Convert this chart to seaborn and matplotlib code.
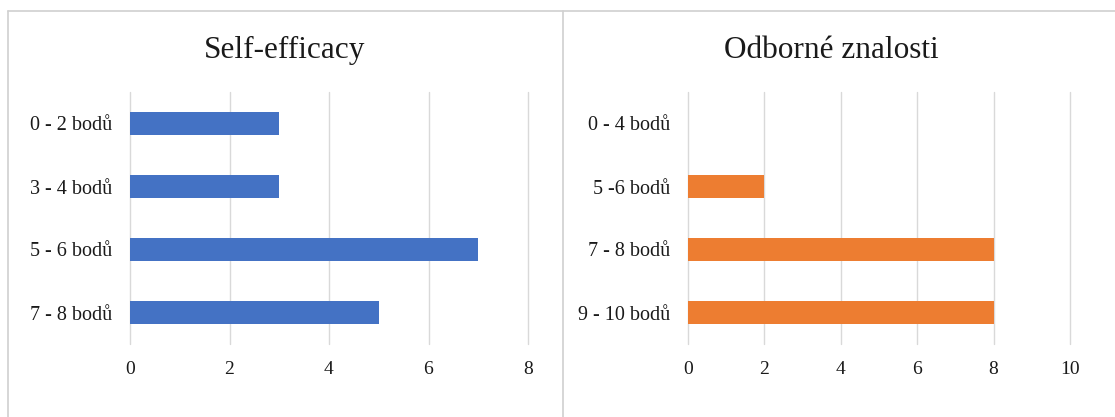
import matplotlib
matplotlib.use("Agg")
import matplotlib.pyplot as plt
from matplotlib.lines import Line2D
import seaborn as sns
import pandas as pd

# Self-efficacy score bands and counts
se_categories = ["0 - 2 bodů", "3 - 4 bodů", "5 - 6 bodů", "7 - 8 bodů"]
se_values = [3, 3, 7, 5]

# Professional knowledge score bands and counts
oz_categories = ["0 - 4 bodů", "5 -6 bodů", "7 - 8 bodů", "9 - 10 bodů"]
oz_values = [0, 2, 8, 8]

se_ticks = [0, 2, 4, 6, 8]
oz_ticks = [0, 2, 4, 6, 8, 10]

BLUE = "#4472C4"
ORANGE = "#ED7D31"
GRID = "#D9D9D9"
TEXT = "#1a1a1a"

sns.set_theme(style="white")
plt.rcParams["font.family"] = ["Liberation Serif", "DejaVu Serif"]

W, H = 1115, 417
fig = plt.figure(figsize=(W / 100, H / 100), dpi=100)


def px_axes(x0, x1, y0, y1):
    return fig.add_axes([x0 / W, 1 - y1 / H, (x1 - x0) / W, (y1 - y0) / H])


def draw_panel(ax, cats, vals, ticks, color):
    df = pd.DataFrame({"kategorie": cats, "pocet": vals})
    sns.barplot(data=df, y="kategorie", x="pocet", orient="h", color=color,
                width=0.35, saturation=1, ax=ax, order=cats, linewidth=0)
    ax.set_xlim(ticks[0], ticks[-1])
    ax.set_xticks(ticks)
    ax.grid(axis="x", color=GRID, linewidth=1)
    for gl in ax.get_xgridlines():
        gl.set_clip_on(False)
    ax.set_axisbelow(True)
    for s in ax.spines.values():
        s.set_visible(False)
    ax.set_xlabel("")
    ax.set_ylabel("")
    ax.tick_params(axis="x", length=0, pad=12, labelsize=14, labelcolor=TEXT)
    ax.tick_params(axis="y", length=0, pad=13, labelsize=14.5, labelcolor=TEXT)


ax1 = px_axes(130, 528, 92, 344)
draw_panel(ax1, se_categories, se_values, se_ticks, BLUE)

ax2 = px_axes(688, 1070, 92, 344)
draw_panel(ax2, oz_categories, oz_values, oz_ticks, ORANGE)

# Panel titles
fig.text(285 / W, 1 - 58 / H, "Self-efficacy", ha="center", va="baseline",
         fontsize=22.5, color=TEXT)
fig.text(831 / W, 1 - 58 / H, "Odborné znalosti", ha="center", va="baseline",
         fontsize=22.5, color=TEXT)

# Chart frames
frame = dict(color="#D0D0D0", linewidth=1.2, transform=fig.transFigure)
fig.add_artist(Line2D([8 / W, 1], [1 - 11 / H, 1 - 11 / H], **frame))
fig.add_artist(Line2D([8 / W, 8 / W], [0, 1 - 11 / H], **frame))
fig.add_artist(Line2D([563 / W, 563 / W], [0, 1 - 11 / H], **frame))

fig.savefig("out.png", dpi=100, facecolor="white")
